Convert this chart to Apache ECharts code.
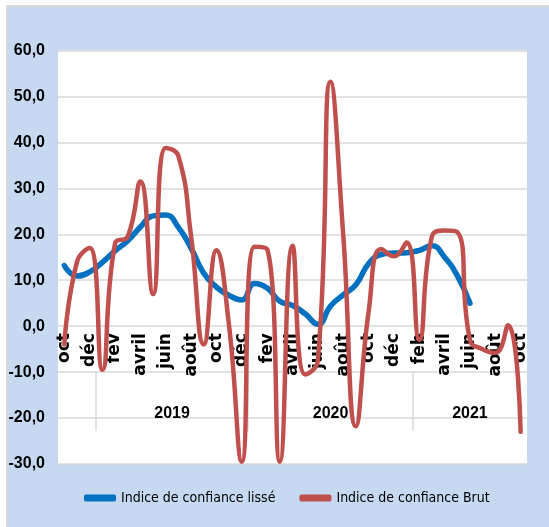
<!DOCTYPE html>
<html>
<head>
<meta charset="utf-8">
<script src="https://cdn.jsdelivr.net/npm/echarts@6/dist/echarts.min.js"></script>
<style>
  html, body { margin: 0; padding: 0; background: #ffffff; }
  #frame { position: absolute; left: 6px; top: 5px; width: 541px; height: 520px;
           border-top: 2px solid #d9d9d9; border-left: 2px solid #d9d9d9; background: #c6d9f1; }
  #chart { width: 541px; height: 520px; }
</style>
</head>
<body>
<div id="frame"><div id="chart"></div></div>
<script>
// Months from oct 2018 to oct 2021
const months = ['oct','nov','déc','janv','fév','mars','avril','mai','juin','juil','août','sept',
                'oct','nov','déc','janv','fev','mars','avril','mai','juin','juil','août','sept',
                'oct','nov','déc','janv','feb','mars','avril','mai','juin','juil','août','sept','oct'];
// Year groups (first and last month index of each group)
const yearLabels = ['2019', '2020', '2021'];
const yearStart = [3, 15, 28];
const yearEnd = [14, 27, 36];
// Series
const lisse = [13.2, 10.9, 11.8, 13.9, 16.4, 18.6, 21.6, 24.0, 24.2, 21.5, 17.0, 11.5,
               8.5, 6.7, 5.7, 9.3, 8.3, 5.4, 4.5, 2.7, 0.4, 4.4, 6.8, 9.0,
               13.6, 15.6, 15.9, 16.0, 16.5, 17.5, 15.0, 11.0, 5.0];
const brut = [-4, 14, 17, -9.5, 18, 19.5, 31.5, 7, 38.8, 37, 19.5, -4,
              16.5, 0, -29.5, 17.3, 16.8, -29.5, 17.5, -10.5, -7.5, 53.2, 20, -21.8,
              3, 16.8, 15.2, 18.2, -3, 19.5, 20.8, 20.5, -3, -5, -5.8, 0.2, -23];
const yMin = -30, yMax = 60, yStep = 10;

const sans = "'Liberation Sans', Arial, sans-serif";
const cond = "'DejaVu Sans Condensed', 'DejaVu Sans', sans-serif";
const yearCenters = yearStart.map((s, i) => (s + yearEnd[i]) / 2);
const yearSeps = yearStart.map(s => s - 0.5);

const W = 541, H = 520;
const G = { left: 50, right: 22, top: 43.5, bottom: 63 };
const gridH = H - G.top - G.bottom;
const zeroOffset = -gridH * (0 - yMin) / (yMax - yMin);

const chart = echarts.init(document.getElementById('chart'));
chart.setOption({
  animation: false,
  backgroundColor: 'transparent',
  grid: { left: G.left, right: G.right, top: G.top, bottom: G.bottom, show: true,
          backgroundColor: '#ffffff', borderWidth: 0, containLabel: false, outerBoundsMode: 'none' },
  legend: {
    left: 71, top: 479,
    itemWidth: 32, itemHeight: 7, itemGap: 24, icon: 'roundRect',
    textStyle: { fontFamily: cond, fontSize: 14, color: '#000' },
    data: ['Indice de confiance lissé', 'Indice de confiance Brut']
  },
  xAxis: [{
    type: 'category', data: months, boundaryGap: true, position: 'bottom', offset: zeroOffset,
    axisLine: { show: false, onZero: false },
    axisTick: { show: false },
    axisLabel: { interval: 1, rotate: 90, margin: 7, color: '#000',
                 fontFamily: "'DejaVu Sans', sans-serif", fontWeight: 'bold', fontSize: 17 },
    splitLine: { show: false }
  }, {
    type: 'value', min: -0.5, max: months.length - 0.5, position: 'bottom',
    offset: -gridH * (-10 - yMin) / (yMax - yMin),
    axisLine: { show: false, onZero: false },
    splitLine: { show: false },
    axisTick: { show: true, inside: false, length: 59, customValues: yearSeps,
                lineStyle: { color: '#d9d9d9', width: 1.5 } },
    axisLabel: { show: true, margin: 33, customValues: yearCenters, color: '#000',
                 fontFamily: sans, fontWeight: 'bold', fontSize: 16,
                 formatter: v => yearLabels[yearCenters.indexOf(v)] || '' }
  }],
  yAxis: {
    type: 'value', min: yMin, max: yMax, interval: yStep,
    axisLine: { show: false, onZero: false }, axisTick: { show: false },
    splitLine: { lineStyle: { color: '#d9d9d9', width: 1.5 } },
    axisLabel: { margin: 13, color: '#000', fontFamily: sans, fontWeight: 'bold', fontSize: 16,
                 formatter: v => v.toFixed(1).replace('.', ',') }
  },
  series: [{
    name: 'Indice de confiance lissé', type: 'line', data: lisse, smooth: true,
    showSymbol: false, symbol: 'none', xAxisIndex: 0,
    lineStyle: { color: '#0070c0', width: 5.5, cap: 'round' }, itemStyle: { color: '#0070c0' }
  }, {
    name: 'Indice de confiance Brut', type: 'line', data: brut, smooth: true,
    showSymbol: false, symbol: 'none', xAxisIndex: 0,
    lineStyle: { color: '#c0504d', width: 4.5, cap: 'round' }, itemStyle: { color: '#c0504d' }
  }]
});
</script>
</body>
</html>
